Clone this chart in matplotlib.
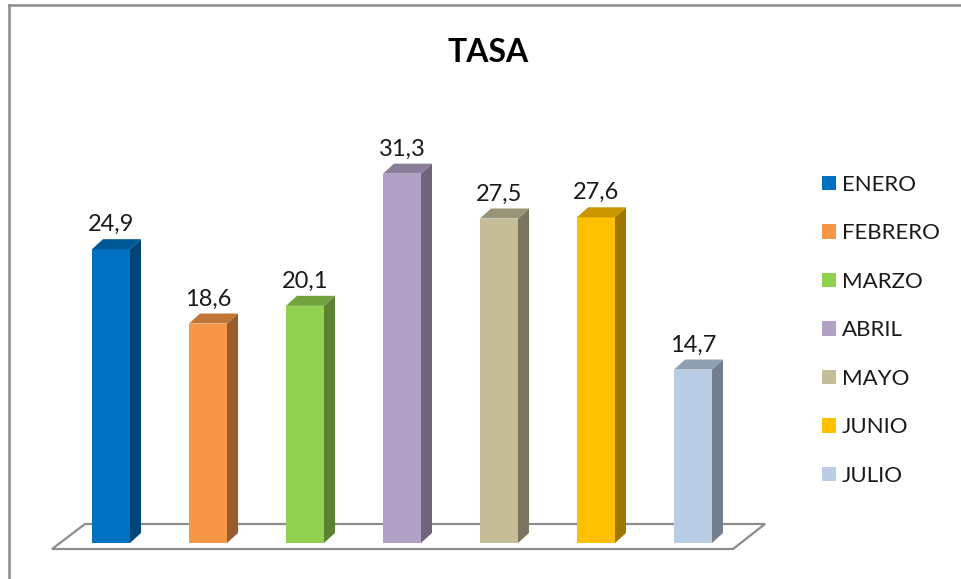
import numpy as np
import matplotlib.pyplot as plt
from matplotlib.patches import Polygon, Patch
from matplotlib.lines import Line2D
from matplotlib.colors import to_rgb

plt.rcParams['font.family'] = ['Lato', 'DejaVu Sans']

meses = ['ENERO', 'FEBRERO', 'MARZO', 'ABRIL', 'MAYO', 'JUNIO', 'JULIO']
tasa = [24.9, 18.6, 20.1, 31.3, 27.5, 27.6, 14.7]
etiquetas = ['24,9', '18,6', '20,1', '31,3', '27,5', '27,6', '14,7']
colores = ['#0070C0', '#F79646', '#92D050', '#B2A1C7', '#C4BD97', '#FFC000', '#B9CDE5']

W, H = 961, 579
paso = 97.0       # px between bars
escala = 11.8     # px per unit
x0_px, base_px = 111.0, 543.0


def tono(c, f):
    return tuple(np.array(to_rgb(c)) * f)


fig = plt.figure(figsize=(W / 100, H / 100), dpi=100)
ax = fig.add_axes([0, 0, 1, 1])
ax.set_xlim(-x0_px / paso, (W - x0_px) / paso)
ax.set_ylim(-(H - base_px) / escala, base_px / escala)
ax.axis('off')

# borde del grafico (solo arriba e izquierda)
fig.add_artist(Line2D([9 / W, 9 / W], [0, 1 - 5 / H], color='#8C8C8C', lw=1.8))
fig.add_artist(Line2D([9 / W, 1], [1 - 5 / H, 1 - 5 / H], color='#8C8C8C', lw=1.8))

# piso
def px(xp, yp):
    return ((xp - x0_px) / paso, (base_px - yp) / escala)

piso = Polygon([px(52, 549), px(85, 524), px(765, 524), px(733, 549)], closed=True,
               facecolor='white', edgecolor='#8C8C8C', lw=1.6, zorder=1)
ax.add_patch(piso)

x = np.arange(len(meses))
ancho = 38 / paso
dx, dy = 11 / paso, 10 / escala

ax.bar(x, tasa, width=ancho, color=colores, zorder=3)
for xi, v, c, lab in zip(x, tasa, colores, etiquetas):
    l, r = xi - ancho / 2, xi + ancho / 2
    lado = Polygon([(r, 0), (r + dx, dy), (r + dx, v + dy), (r, v)], closed=True,
                   facecolor=tono(c, 0.62), edgecolor='none', zorder=2)
    tapa = Polygon([(l, v), (l + dx, v + dy), (r + dx, v + dy), (r, v)], closed=True,
                   facecolor=tono(c, 0.78), edgecolor='none', zorder=3)
    ax.add_patch(lado)
    ax.add_patch(tapa)
    ax.text(xi, v + 18 / escala, lab, ha='center', va='baseline', fontsize=17, color='#1A1A1A')

ax.text(0.508, 1 - 62 / H, 'TASA', transform=fig.transFigure, ha='center', va='baseline',
        fontsize=23, fontweight='bold', color='black')

handles = [Patch(facecolor=c, edgecolor='none') for c in colores]
fig.legend(handles, meses, loc='upper left', bbox_to_anchor=(822 / W, 1 - 175 / H),
           frameon=False, fontsize=16, handlelength=0.63, handleheight=0.63,
           handletextpad=0.28, labelspacing=1.28, borderpad=0, borderaxespad=0,
           labelcolor='#1A1A1A')

fig.savefig('out.png', dpi=100)
